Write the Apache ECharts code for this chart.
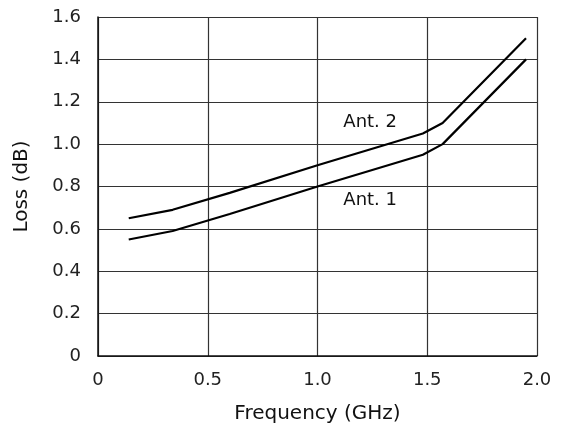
<!DOCTYPE html>
<html>
<head>
<meta charset="utf-8">
<script src="https://cdn.jsdelivr.net/npm/echarts@6/dist/echarts.min.js"></script>
<style>
  html, body { margin: 0; padding: 0; background: #fff; }
  #chart { width: 569px; height: 433px; }
</style>
</head>
<body>
<div id="chart"></div>
<script>
// values
var ant1Freq = [0.14, 0.34, 0.6, 1.0, 1.48, 1.57, 1.95];
var ant1Loss = [0.55, 0.59, 0.67, 0.80, 0.95, 1.00, 1.40];
var ant2Freq = [0.14, 0.34, 0.6, 1.0, 1.48, 1.57, 1.95];
var ant2Loss = [0.65, 0.69, 0.77, 0.90, 1.05, 1.10, 1.50];
var xTicks = ["0", "0.5", "1.0", "1.5", "2.0"];

var font = "DejaVu Sans, sans-serif";

var chart = echarts.init(document.getElementById("chart"));

function pairs(xs, ys) {
  return xs.map(function (x, i) { return [x, ys[i]]; });
}

function label(text, x, y) {
  return {
    symbol: "circle",
    symbolSize: 1,
    itemStyle: { color: "rgba(0,0,0,0)" },
    label: {
      show: true, position: "inside", formatter: text,
      color: "#111", fontSize: 18, fontFamily: font
    },
    data: [{ coord: [x, y] }]
  };
}

var option = {
  animation: false,
  grid: { left: 98, right: 32, top: 17, bottom: 77 },
  xAxis: {
    type: "value",
    min: 0,
    max: 2,
    interval: 0.5,
    name: "Frequency (GHz)",
    nameLocation: "middle",
    nameGap: 48,
    nameTextStyle: { color: "#111", fontSize: 20, fontFamily: font },
    axisLine: { show: true, lineStyle: { color: "#111", width: 1.5 } },
    axisTick: { show: false },
    axisLabel: {
      color: "#222", fontSize: 18, fontFamily: font, margin: 15,
      formatter: function (v) { return xTicks[Math.round(v / 0.5)]; }
    },
    splitLine: { show: true, lineStyle: { color: "#333", width: 1.2 } }
  },
  yAxis: {
    type: "value",
    min: 0,
    max: 1.6,
    interval: 0.2,
    name: "Loss (dB)",
    nameLocation: "middle",
    nameGap: 66,
    nameTextStyle: { color: "#111", fontSize: 20, fontFamily: font },
    axisLine: { show: true, lineStyle: { color: "#111", width: 1.5 } },
    axisTick: { show: false },
    axisLabel: {
      color: "#222", fontSize: 18, fontFamily: font, margin: 17,
      formatter: function (v) { return v === 0 ? "0" : v.toFixed(1); }
    },
    splitLine: { show: true, lineStyle: { color: "#333", width: 1.2 } }
  },
  series: [
    {
      name: "Ant. 1",
      type: "line",
      data: pairs(ant1Freq, ant1Loss),
      symbol: "none",
      lineStyle: { color: "#000", width: 2.2 },
      markPoint: label("Ant. 1", 1.24, 0.736)
    },
    {
      name: "Ant. 2",
      type: "line",
      data: pairs(ant2Freq, ant2Loss),
      symbol: "none",
      lineStyle: { color: "#000", width: 2.2 },
      markPoint: label("Ant. 2", 1.24, 1.104)
    }
  ]
};

chart.setOption(option);
</script>
</body>
</html>
